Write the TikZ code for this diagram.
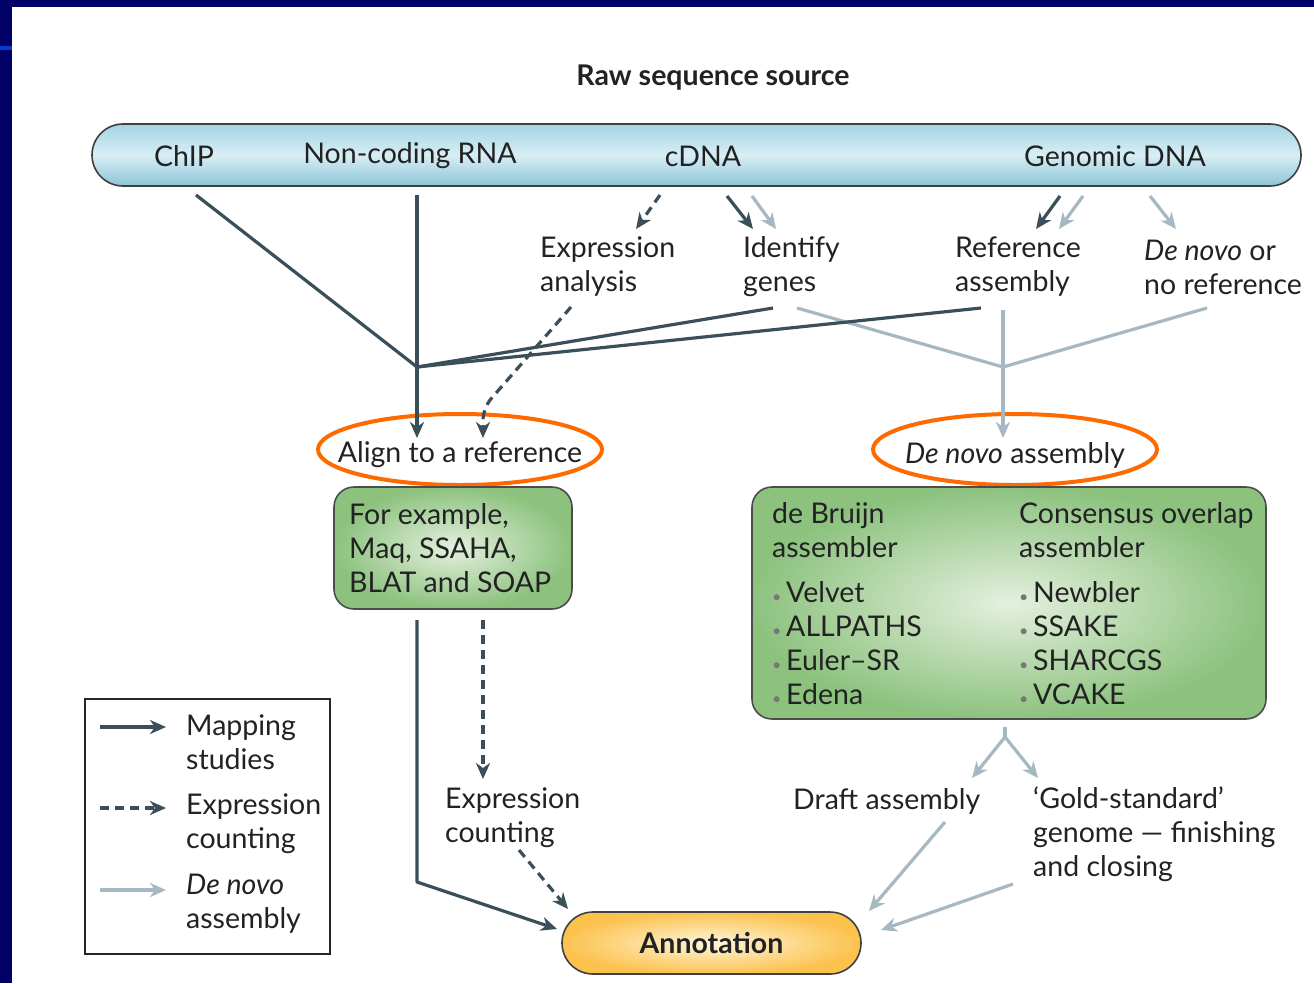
\documentclass[tikz,border=0pt]{standalone}
\usepackage{fontspec}
\setmainfont{Lato}
\usetikzlibrary{arrows.meta,shapes.geometric}
\definecolor{dk}{HTML}{3A4F5A}
\definecolor{lt}{HTML}{A6B8C2}
\definecolor{navy}{HTML}{000066}
\definecolor{slideblue}{HTML}{0A3CCC}
\definecolor{org}{HTML}{FF6A00}
\definecolor{txt}{HTML}{222222}
\definecolor{bul}{HTML}{777777}
\definecolor{barTop}{HTML}{A3D4E3}
\definecolor{barBot}{HTML}{8CC5D7}
\definecolor{barMid}{HTML}{D8EEF5}
\definecolor{grIn}{HTML}{E4F0DE}
\definecolor{grOut}{HTML}{8CC27E}
\definecolor{anIn}{HTML}{FFF6DC}
\definecolor{anOut}{HTML}{FCC24E}
\tikzset{
  lbl/.style={font=\fontsize{28.5}{34}\selectfont, text=txt, inner sep=0pt},
  txtl/.style={lbl, align=left, anchor=west},
  dkline/.style={draw=dk, line width=3.2pt},
  ltline/.style={draw=lt, line width=3.2pt},
  dkarrow/.style={dkline, -{Stealth[length=16pt,width=14pt,inset=5pt]}},
  ltarrow/.style={ltline, -{Stealth[length=16pt,width=14pt,inset=5pt]}},
  dasharrow/.style={dkarrow, dash pattern=on 9pt off 6pt},
  srcbar/.style={draw=black!75, line width=1.6pt, rounded corners=31pt,
    top color=barTop, bottom color=barBot, middle color=barMid,
    minimum width=1209pt, minimum height=62pt, inner sep=0pt},
  gbox/.style={draw=black!70, line width=1.6pt, rounded corners=20pt,
    inner color=grIn, outer color=grOut, inner sep=0pt},
  annot/.style={draw=black!75, line width=1.6pt, rounded corners=31pt,
    inner color=anIn, outer color=anOut, inner sep=0pt,
    minimum width=299pt, minimum height=62pt},
  oval/.style={ellipse, draw=org, line width=4pt, minimum width=284pt,
    minimum height=71pt, inner sep=0pt},
  blt/.style={},
}
\newcommand{\bu}{{\color{bul}\fontsize{16}{16}\selectfont•}\,}
\begin{document}
\begin{tikzpicture}[x=1pt,y=-1pt]
\useasboundingbox (0,0) rectangle (1314,983);
\fill[white] (0,0) rectangle (1314,983);
\fill[navy] (0,0) rectangle (1314,7);
\fill[navy] (0,0) rectangle (12,983);
\fill[slideblue] (0,46) rectangle (12,50);

% title and source bar
\node[lbl, font=\fontsize{28.5}{34}\selectfont\bfseries] (title) at (713,78) {Raw sequence source};
\node[srcbar] (src) at (696.5,155) {};
\node[lbl] (chip) at (184,156) {ChIP};
\node[lbl] (ncrna) at (410,156) {Non-coding RNA};
\node[lbl] (cdna) at (703,156) {cDNA};
\node[lbl] (gdna) at (1115,156) {Genomic DNA};

% second row labels
\node[txtl] (expr) at (540,267) {Expression\\analysis};
\node[txtl] (ident) at (743,267) {Identify\\genes};
\node[txtl] (refasm) at (955,267) {Reference\\assembly};
\node[txtl] (denovo) at (1144,267) {\textit{De novo} or\\no reference};

% ovals
\node[oval] (alignE) at (460,449.5) {};
\node[lbl] (align) at (460,455) {Align to a reference};
\node[oval] (dnasmE) at (1015,449.5) {};
\node[lbl] (dnasm) at (1015,455) {\textit{De novo} assembly};

% green boxes
\node[gbox, minimum width=238pt, minimum height=122pt] (exbox) at (453,548) {};
\node[txtl] (extext) at (349,548) {For example,\\Maq, SSAHA,\\BLAT and SOAP};
\node[gbox, minimum width=514pt, minimum height=232pt] (asmbox) at (1009,603) {};
\node[txtl] (col1) at (772,604) {de Bruijn\\assembler\\[11pt]%
  \bu Velvet\\\bu ALLPATHS\\\bu Euler–SR\\\bu Edena};
\node[txtl] (col2) at (1019,604) {Consensus overlap\\assembler\\[11pt]%
  \bu Newbler\\\bu SSAKE\\\bu SHARCGS\\\bu VCAKE};

% lower labels
\node[txtl] (exprc) at (445,818) {Expression\\counting};
\node[txtl] (draft) at (793,801) {Draft assembly};
\node[txtl] (gold) at (1033,834) {‘Gold-standard’\\genome — finishing\\and closing};
\node[annot, lbl, font=\fontsize{28.5}{34}\selectfont\bfseries] (ann) at (711.5,943) {Annotation};

% legend
\node[draw=black!85, line width=1.4pt, minimum width=245pt, minimum height=255pt, inner sep=0pt] (leg) at (207.5,826.5) {};
\node[txtl] (lg1) at (186,742) {Mapping\\studies};
\node[txtl] (lg2) at (186,824) {Expression\\counting};
\node[txtl] (lg3) at (186,904) {\textit{De novo}\\assembly};

% coordinates
\coordinate (chipS) at (196,195);
\coordinate (ncS) at (417,195);
\coordinate (jA) at (417,367);
\coordinate (alignIn1) at (417,438);
\coordinate (alignIn2) at (483,438);
\coordinate (idS) at (773,308);
\coordinate (refS) at (981,308);
\coordinate (exS) at (571,307);
\coordinate (exBend) at (483,408);
\coordinate (cd1) at (660,195);
\coordinate (cd1e) at (636,229);
\coordinate (cd2) at (727,196);
\coordinate (cd2e) at (753,229);
\coordinate (cd3) at (752,196);
\coordinate (cd3e) at (776,229);
\coordinate (gd1) at (1060,196);
\coordinate (gd1e) at (1036,229);
\coordinate (gd2) at (1083,196);
\coordinate (gd2e) at (1059,229);
\coordinate (gd3) at (1150,196);
\coordinate (gd3e) at (1176,229);
\coordinate (idS2) at (797,308);
\coordinate (refS2) at (1003,310);
\coordinate (dnS) at (1207,308);
\coordinate (jB) at (1003,367);
\coordinate (dnIn) at (1003,438);
\coordinate (exOut1) at (417,620);
\coordinate (bend1) at (417,882);
\coordinate (annIn1) at (557,929);
\coordinate (exOut2) at (483,620);
\coordinate (exprcIn) at (483,779);
\coordinate (exprcS) at (519,850);
\coordinate (annIn2) at (568,909);
\coordinate (asmOut) at (1005,727);
\coordinate (jC) at (1005,737);
\coordinate (draftIn) at (972,778);
\coordinate (goldIn) at (1038,778);
\coordinate (draftS) at (945,822);
\coordinate (annIn3) at (869,911);
\coordinate (goldS) at (1013,884);
\coordinate (annIn4) at (881,930);
\coordinate (l1a) at (100,727);
\coordinate (l1b) at (166,727);
\coordinate (l2a) at (100,808);
\coordinate (l2b) at (166,808);
\coordinate (l3a) at (100,890);
\coordinate (l3b) at (166,890);

% light (de novo) connectors
\draw[ltline] (idS2) -- (jB);
\draw[ltline] (refS2) -- (jB);
\draw[ltline] (dnS) -- (jB);
\draw[ltarrow] (jB) -- (dnIn);
\draw[ltarrow] (cd3) -- (cd3e);
\draw[ltarrow] (gd2) -- (gd2e);
\draw[ltarrow] (gd3) -- (gd3e);
\draw[ltline] (asmOut) -- (jC);
\draw[ltarrow] (jC) -- (draftIn);
\draw[ltarrow] (jC) -- (goldIn);
\draw[ltarrow] (draftS) -- (annIn3);
\draw[ltarrow] (goldS) -- (annIn4);

% dark (mapping) connectors
\draw[dkline, line join=round] (chipS) -- (jA);
\draw[dkline] (ncS) -- (jA);
\draw[dkline] (idS) -- (jA);
\draw[dkline] (refS) -- (jA);
\draw[dkarrow] (jA) -- (alignIn1);
\draw[dkarrow] (cd2) -- (cd2e);
\draw[dkarrow] (gd1) -- (gd1e);
\draw[dkarrow, line join=round] (exOut1) -- (bend1) -- (annIn1);

% dashed (expression) connectors
\draw[dasharrow] (cd1) -- (cd1e);
\draw[dasharrow, rounded corners=12pt] (exS) -- (exBend) -- (alignIn2);
\draw[dasharrow] (exOut2) -- (exprcIn);
\draw[dasharrow] (exprcS) -- (annIn2);

% legend arrows
\draw[dkarrow] (l1a) -- (l1b);
\draw[dasharrow] (l2a) -- (l2b);
\draw[ltarrow] (l3a) -- (l3b);
\end{tikzpicture}
\end{document}
